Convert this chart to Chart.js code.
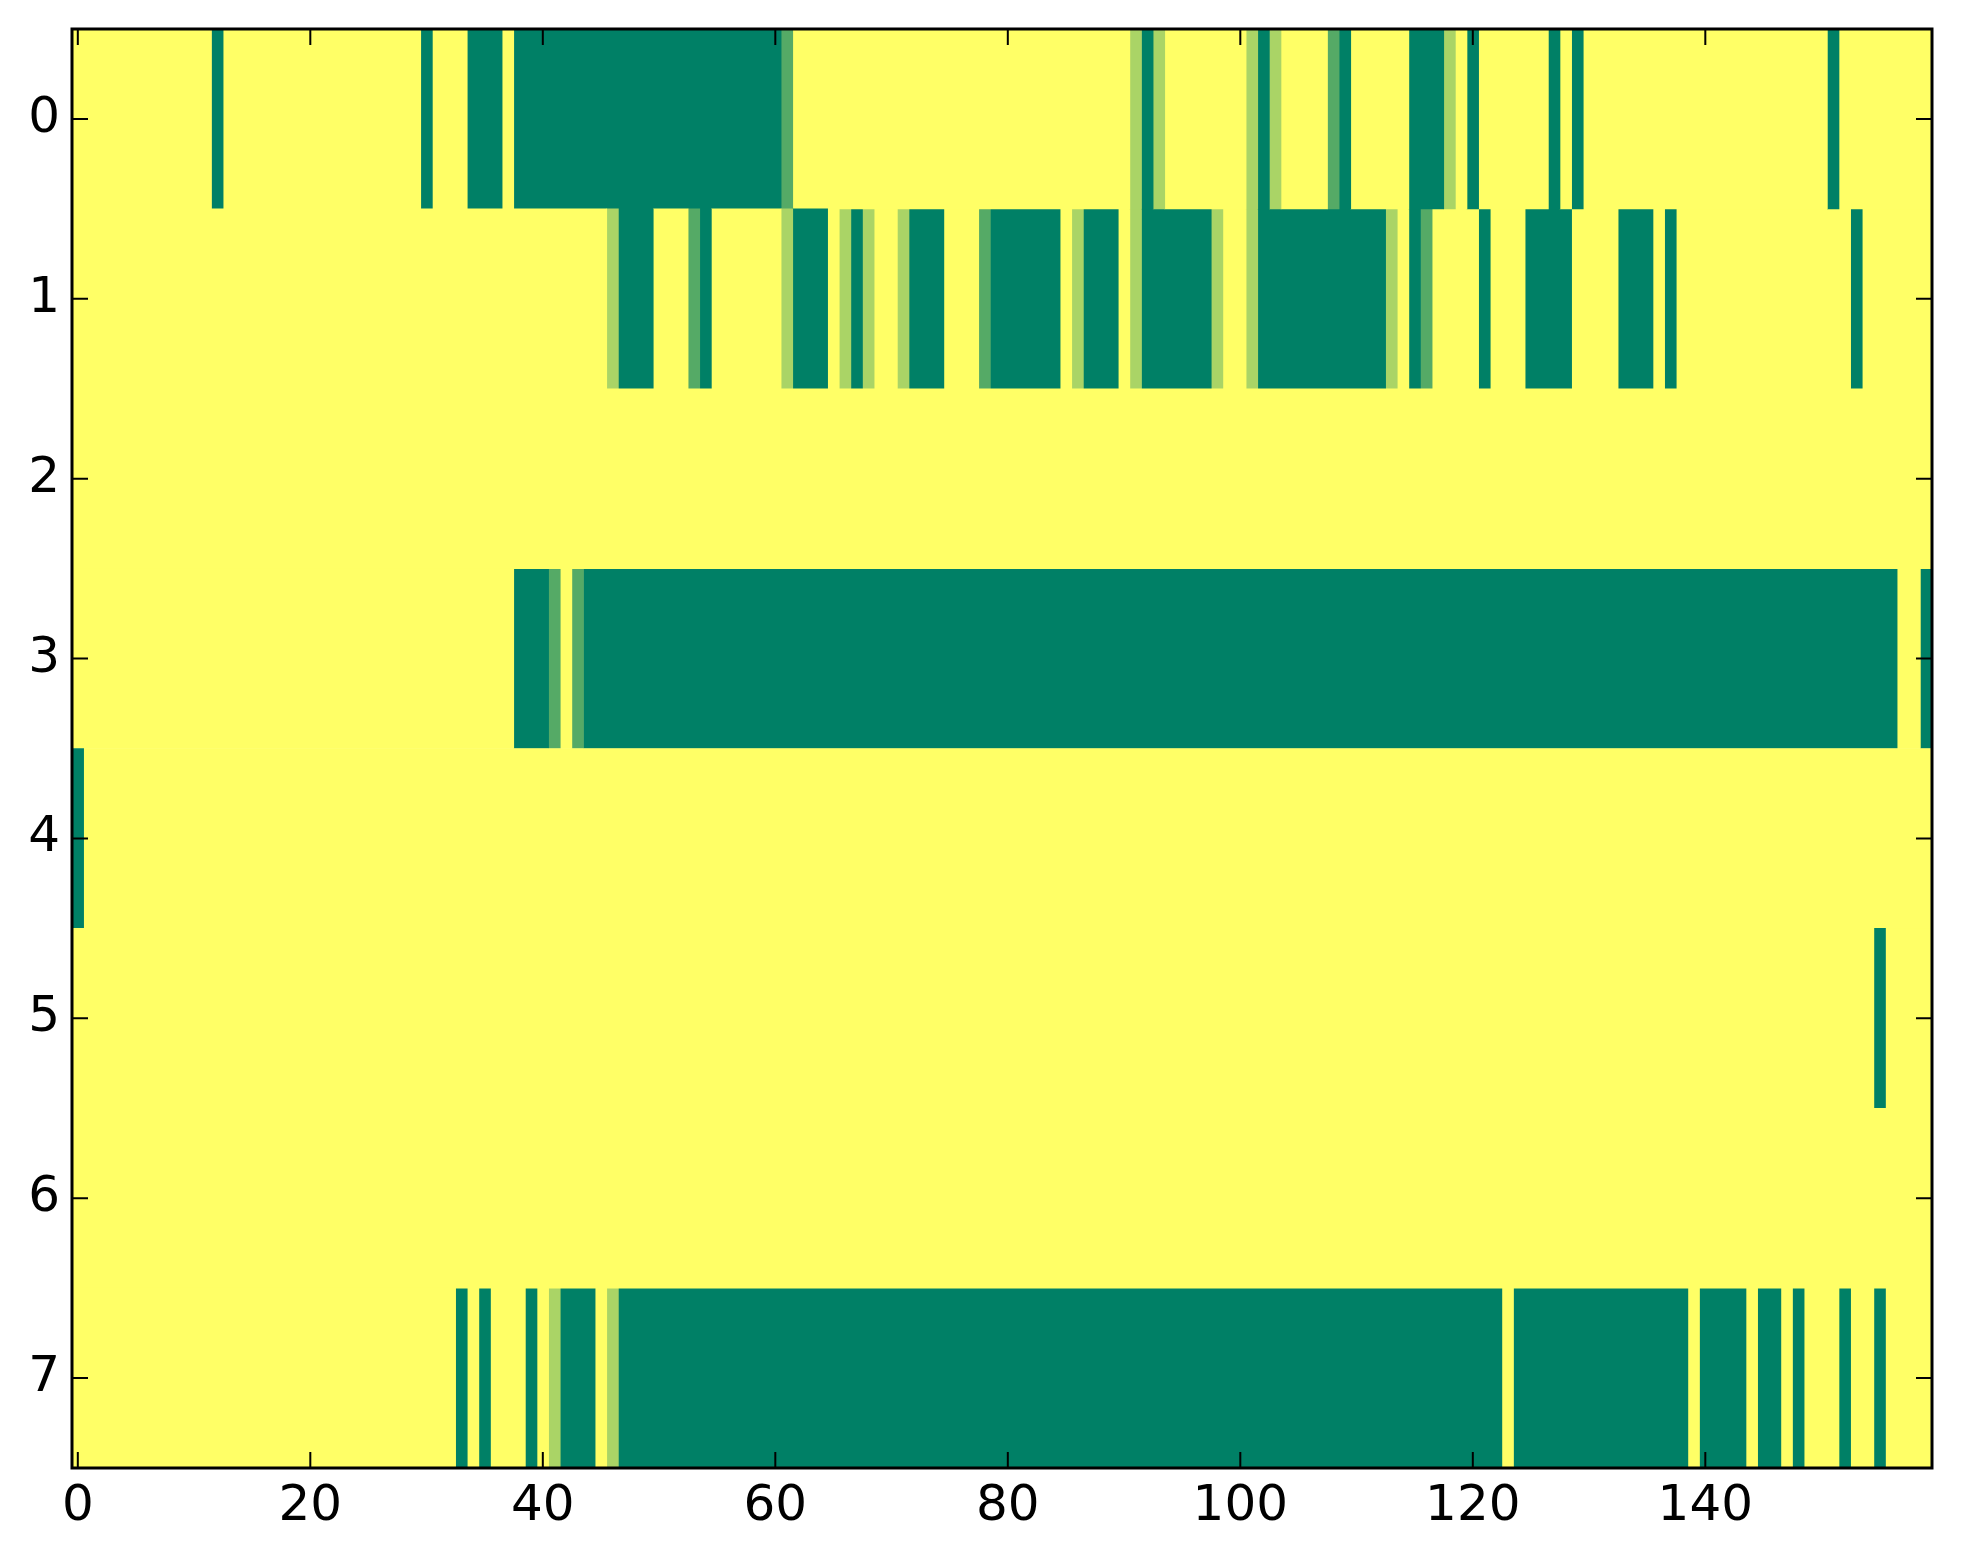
<!DOCTYPE html>
<html>
<head>
<meta charset="utf-8">
<script src="https://cdn.jsdelivr.net/npm/chart.js@4.4.1/dist/chart.umd.min.js"></script>
<style>
  html, body { margin: 0; padding: 0; background: #ffffff; }
  #wrap { width: 1963px; height: 1564px; }
</style>
</head>
<body>
<div id="wrap"><canvas id="heat" width="1963" height="1564"></canvas></div>
<script>
'use strict';

// cell levels 0..3 per row (0 = dark green, 3 = yellow), 160 columns each
var rowLabels = ['0', '1', '2', '3', '4', '5', '6', '7'];
var xTicks = [0, 20, 40, 60, 80, 100, 120, 140];
var maxLevel = 3;

var row0 = [
  3,3,3,3,3,3,3,3,3,3, 3,3,0,3,3,3,3,3,3,3,
  3,3,3,3,3,3,3,3,3,3, 0,3,3,3,0,0,0,3,0,0,
  0,0,0,0,0,0,0,0,0,0, 0,0,0,0,0,0,0,0,0,0,
  0,1,3,3,3,3,3,3,3,3, 3,3,3,3,3,3,3,3,3,3,
  3,3,3,3,3,3,3,3,3,3, 3,2,0,2,3,3,3,3,3,3,
  3,2,0,2,3,3,3,3,1,0, 3,3,3,3,3,0,0,0,2,3,
  0,3,3,3,3,3,3,0,3,0, 3,3,3,3,3,3,3,3,3,3,
  3,3,3,3,3,3,3,3,3,3, 3,0,3,3,3,3,3,3,3,3
];
var row1 = [
  3,3,3,3,3,3,3,3,3,3, 3,3,3,3,3,3,3,3,3,3,
  3,3,3,3,3,3,3,3,3,3, 3,3,3,3,3,3,3,3,3,3,
  3,3,3,3,3,3,2,0,0,0, 3,3,3,1,0,3,3,3,3,3,
  3,2,0,0,0,3,2,0,2,3, 3,2,0,0,0,3,3,3,1,0,
  0,0,0,0,0,3,2,0,0,0, 3,2,0,0,0,0,0,0,2,3,
  3,2,0,0,0,0,0,0,0,0, 0,0,0,2,3,0,1,3,3,3,
  3,0,3,3,3,0,0,0,0,3, 3,3,3,0,0,0,3,0,3,3,
  3,3,3,3,3,3,3,3,3,3, 3,3,3,0,3,3,3,3,3,3
];
var row2 = [
  3,3,3,3,3,3,3,3,3,3, 3,3,3,3,3,3,3,3,3,3,
  3,3,3,3,3,3,3,3,3,3, 3,3,3,3,3,3,3,3,3,3,
  3,3,3,3,3,3,3,3,3,3, 3,3,3,3,3,3,3,3,3,3,
  3,3,3,3,3,3,3,3,3,3, 3,3,3,3,3,3,3,3,3,3,
  3,3,3,3,3,3,3,3,3,3, 3,3,3,3,3,3,3,3,3,3,
  3,3,3,3,3,3,3,3,3,3, 3,3,3,3,3,3,3,3,3,3,
  3,3,3,3,3,3,3,3,3,3, 3,3,3,3,3,3,3,3,3,3,
  3,3,3,3,3,3,3,3,3,3, 3,3,3,3,3,3,3,3,3,3
];
var row3 = [
  3,3,3,3,3,3,3,3,3,3, 3,3,3,3,3,3,3,3,3,3,
  3,3,3,3,3,3,3,3,3,3, 3,3,3,3,3,3,3,3,0,0,
  0,1,3,1,0,0,0,0,0,0, 0,0,0,0,0,0,0,0,0,0,
  0,0,0,0,0,0,0,0,0,0, 0,0,0,0,0,0,0,0,0,0,
  0,0,0,0,0,0,0,0,0,0, 0,0,0,0,0,0,0,0,0,0,
  0,0,0,0,0,0,0,0,0,0, 0,0,0,0,0,0,0,0,0,0,
  0,0,0,0,0,0,0,0,0,0, 0,0,0,0,0,0,0,0,0,0,
  0,0,0,0,0,0,0,0,0,0, 0,0,0,0,0,0,0,3,3,0
];
var row4 = [
  0,3,3,3,3,3,3,3,3,3, 3,3,3,3,3,3,3,3,3,3,
  3,3,3,3,3,3,3,3,3,3, 3,3,3,3,3,3,3,3,3,3,
  3,3,3,3,3,3,3,3,3,3, 3,3,3,3,3,3,3,3,3,3,
  3,3,3,3,3,3,3,3,3,3, 3,3,3,3,3,3,3,3,3,3,
  3,3,3,3,3,3,3,3,3,3, 3,3,3,3,3,3,3,3,3,3,
  3,3,3,3,3,3,3,3,3,3, 3,3,3,3,3,3,3,3,3,3,
  3,3,3,3,3,3,3,3,3,3, 3,3,3,3,3,3,3,3,3,3,
  3,3,3,3,3,3,3,3,3,3, 3,3,3,3,3,3,3,3,3,3
];
var row5 = [
  3,3,3,3,3,3,3,3,3,3, 3,3,3,3,3,3,3,3,3,3,
  3,3,3,3,3,3,3,3,3,3, 3,3,3,3,3,3,3,3,3,3,
  3,3,3,3,3,3,3,3,3,3, 3,3,3,3,3,3,3,3,3,3,
  3,3,3,3,3,3,3,3,3,3, 3,3,3,3,3,3,3,3,3,3,
  3,3,3,3,3,3,3,3,3,3, 3,3,3,3,3,3,3,3,3,3,
  3,3,3,3,3,3,3,3,3,3, 3,3,3,3,3,3,3,3,3,3,
  3,3,3,3,3,3,3,3,3,3, 3,3,3,3,3,3,3,3,3,3,
  3,3,3,3,3,3,3,3,3,3, 3,3,3,3,3,0,3,3,3,3
];
var row6 = row2.slice();
var row7 = [
  3,3,3,3,3,3,3,3,3,3, 3,3,3,3,3,3,3,3,3,3,
  3,3,3,3,3,3,3,3,3,3, 3,3,3,0,3,0,3,3,3,0,
  3,2,0,0,0,3,2,0,0,0, 0,0,0,0,0,0,0,0,0,0,
  0,0,0,0,0,0,0,0,0,0, 0,0,0,0,0,0,0,0,0,0,
  0,0,0,0,0,0,0,0,0,0, 0,0,0,0,0,0,0,0,0,0,
  0,0,0,0,0,0,0,0,0,0, 0,0,0,0,0,0,0,0,0,0,
  0,0,0,3,0,0,0,0,0,0, 0,0,0,0,0,0,0,0,0,3,
  0,0,0,0,3,0,0,3,0,3, 3,3,0,3,3,0,3,3,3,3
];

var rows = [row0, row1, row2, row3, row4, row5, row6, row7];

// matplotlib 'summer' colormap
function summer(level) {
    var t = level / maxLevel;
    var r = Math.round(255 * t);
    var g = Math.round(255 * (0.5 + t / 2));
    return 'rgb(' + r + ',' + g + ',102)';
}

// merge equal neighbours into runs so the bars don't leave seams
function runsOf(row) {
    var out = [];
    var s = 0;
    for (var c = 1; c <= row.length; c++) {
        if (c === row.length || row[c] !== row[s]) {
            out.push({ from: s - 0.5, to: c - 0.5, level: row[s] });
            s = c;
        }
    }
    return out;
}

var runs = rows.map(runsOf);
var maxRuns = Math.max.apply(null, runs.map(r => r.length));
var datasets = [];
for (var k = 0; k < maxRuns; k++) {
    datasets.push({
        data: runs.map(r => r[k] ? [r[k].from, r[k].to] : null),
        backgroundColor: runs.map(r => r[k] ? summer(r[k].level) : 'rgba(0,0,0,0)'),
        borderWidth: 0,
        barPercentage: 1,
        categoryPercentage: 1
    });
}

// frame and inward ticks on all four sides, like matplotlib classic
var frameTicks = {
    id: 'frameTicks',
    afterDraw(chart) {
        var ctx = chart.ctx;
        var a = chart.chartArea;
        var xs = chart.scales.x;
        var ys = chart.scales.y;
        var len = 16;
        ctx.save();
        ctx.strokeStyle = '#000';
        ctx.lineWidth = 2;
        ctx.beginPath();
        xTicks.forEach(v => {
            var px = xs.getPixelForValue(v);
            ctx.moveTo(px, a.bottom);
            ctx.lineTo(px, a.bottom - len);
            ctx.moveTo(px, a.top);
            ctx.lineTo(px, a.top + len);
        });
        rowLabels.forEach((l, i) => {
            var py = ys.getPixelForValue(i);
            ctx.moveTo(a.left, py);
            ctx.lineTo(a.left + len, py);
            ctx.moveTo(a.right, py);
            ctx.lineTo(a.right - len, py);
        });
        ctx.stroke();
        ctx.lineWidth = 3;
        ctx.strokeRect(a.left, a.top, a.right - a.left, a.bottom - a.top);
        ctx.restore();
    }
};

var tickFont = { family: 'DejaVu Sans', size: 50 };

function noPadding(scale) {
    scale.paddingTop = 0;
    scale.paddingBottom = 0;
    scale.paddingLeft = 0;
    scale.paddingRight = 0;
}

new Chart(document.getElementById('heat'), {
    type: 'bar',
    data: { labels: rowLabels, datasets: datasets },
    options: {
        indexAxis: 'y',
        responsive: false,
        maintainAspectRatio: false,
        devicePixelRatio: 1,
        animation: false,
        grouped: false,
        layout: { padding: { top: 29, right: 31, left: 0, bottom: 0 } },
        plugins: {
            legend: { display: false },
            tooltip: { enabled: false }
        },
        scales: {
            x: {
                type: 'linear',
                min: -0.5,
                max: 159.5,
                grid: { display: false, drawTicks: false },
                border: { display: false },
                ticks: { color: '#000', font: tickFont, padding: 9, maxRotation: 0 },
                afterBuildTicks: scale => { scale.ticks = xTicks.map(v => ({ value: v })); },
                afterFit: scale => { scale.height = 96; noPadding(scale); }
            },
            y: {
                type: 'category',
                offset: true,
                grid: { display: false, drawTicks: false },
                border: { display: false },
                ticks: { color: '#000', font: tickFont, padding: 12 },
                afterFit: scale => { scale.width = 72; noPadding(scale); }
            }
        }
    },
    plugins: [frameTicks]
});
</script>
</body>
</html>
